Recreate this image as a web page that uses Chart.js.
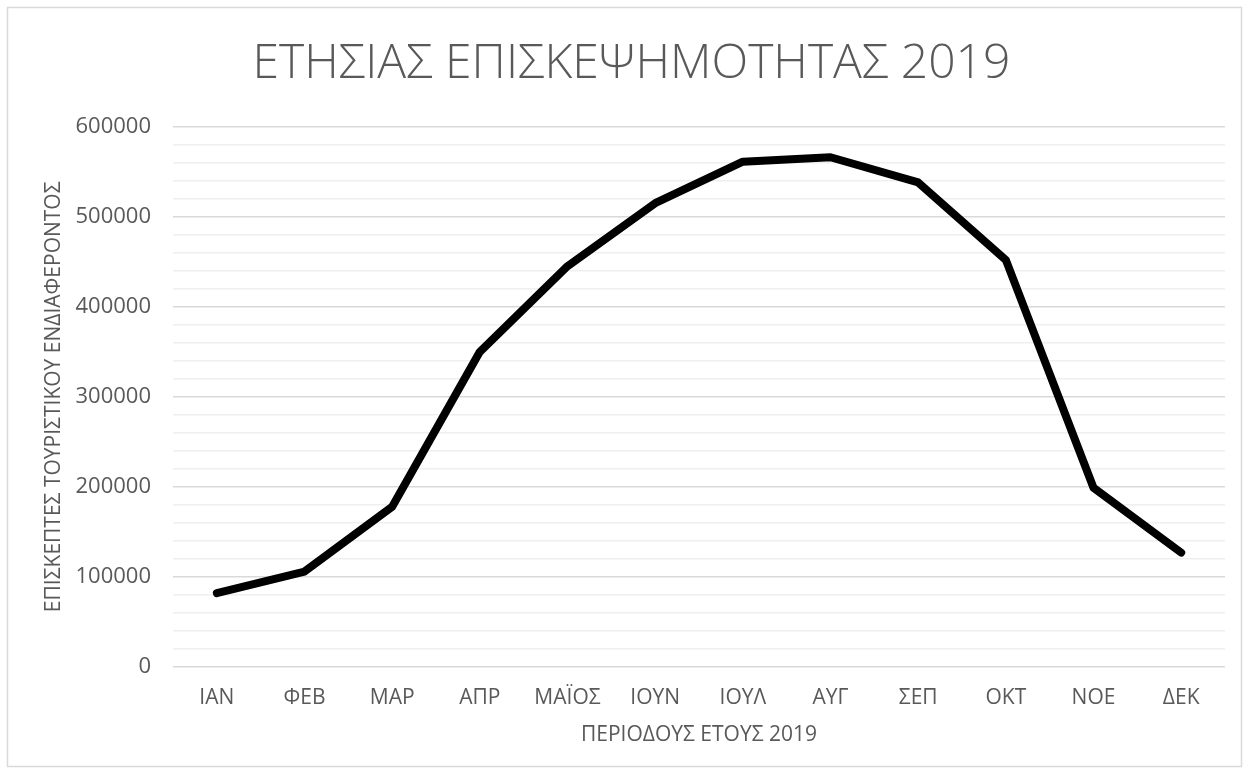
<!DOCTYPE html>
<html>
<head>
<meta charset="utf-8">
<script src="https://cdn.jsdelivr.net/npm/chart.js@4"></script>
<style>
  html, body { margin: 0; padding: 0; background: #fff; }
  #wrap { position: relative; width: 1250px; height: 776px; }
</style>
</head>
<body>
<div id="wrap"><canvas id="c" width="1250" height="776"></canvas></div>
<script>
const categories = ["ΙΑΝ","ΦΕΒ","ΜΑΡ","ΑΠΡ","ΜΑΪΟΣ","ΙΟΥΝ","ΙΟΥΛ","ΑΥΓ","ΣΕΠ","ΟΚΤ","ΝΟΕ","ΔΕΚ"];
const visitors = [82000, 106000, 178000, 350000, 445000, 515000, 561000, 566000, 538000, 452000, 199000, 127000];
const yMin = 0;
const yMax = 600000;
const yMinorStep = 20000;
const yMajorStep = 100000;
const titleText = "ΕΤΗΣΙΑΣ ΕΠΙΣΚΕΨΗΜΟΤΗΤΑΣ 2019";
const xTitle = "ΠΕΡΙΟΔΟΥΣ ΕΤΟΥΣ 2019";
const yTitle = "ΕΠΙΣΚΕΠΤΕΣ ΤΟΥΡΙΣΤΙΚΟΥ ΕΝΔΙΑΦΕΡΟΝΤΟΣ";

const textColor = '#595959';
const fontFamily = "'Open Sans', 'Noto Sans', sans-serif";

const frame = {
  id: 'frame',
  beforeDraw(chart) {
    const ctx = chart.ctx;
    ctx.save();
    ctx.fillStyle = '#ffffff';
    ctx.fillRect(0, 0, chart.width, chart.height);
    ctx.strokeStyle = '#d9d9d9';
    ctx.lineWidth = 1.5;
    ctx.strokeRect(7.5, 7.5, 1234, 759);
    ctx.restore();
  }
};

new Chart(document.getElementById('c'), {
  type: 'line',
  data: {
    labels: categories,
    datasets: [{
      data: visitors,
      borderColor: '#000000',
      borderWidth: 8,
      pointRadius: 0,
      pointHoverRadius: 0,
      tension: 0,
      borderJoinStyle: 'round',
      borderCapStyle: 'round',
      fill: false
    }]
  },
  options: {
    responsive: false,
    animation: false,
    events: [],
    layout: { padding: { left: 38, right: 25, top: 0, bottom: 0 } },
    plugins: {
      legend: { display: false },
      tooltip: { enabled: false },
      title: {
        display: true,
        text: titleText,
        color: textColor,
        font: { family: fontFamily, size: 48, weight: '300' },
        padding: { top: 36, bottom: 33 }
      }
    },
    scales: {
      x: {
        offset: true,
        grid: { display: false, drawTicks: false },
        border: { display: false },
        ticks: {
          color: textColor,
          font: { family: fontFamily, size: 21 },
          padding: 18,
          maxRotation: 0,
          autoSkip: false
        },
        title: {
          display: true,
          text: xTitle,
          color: textColor,
          font: { family: fontFamily, size: 21 },
          padding: { top: 4, bottom: 28 }
        },
        afterFit(scale) { scale.height = 109; }
      },
      y: {
        min: yMin,
        max: yMax,
        border: { display: false },
        grid: {
          drawTicks: false,
          color: (c) => (c.tick && c.tick.value % yMajorStep === 0) ? '#d9d9d9' : '#efefef',
          lineWidth: 1.5
        },
        ticks: {
          stepSize: yMinorStep,
          autoSkip: false,
          color: textColor,
          font: { family: fontFamily, size: 22 },
          padding: 22,
          callback: (v) => (v % yMajorStep === 0) ? String(v) : ''
        },
        title: {
          display: true,
          text: yTitle,
          color: textColor,
          font: { family: fontFamily, size: 21 },
          padding: { top: 3, bottom: 4 }
        },
        afterFit(scale) { scale.width = 135; }
      }
    }
  },
  plugins: [frame]
});
</script>
</body>
</html>
